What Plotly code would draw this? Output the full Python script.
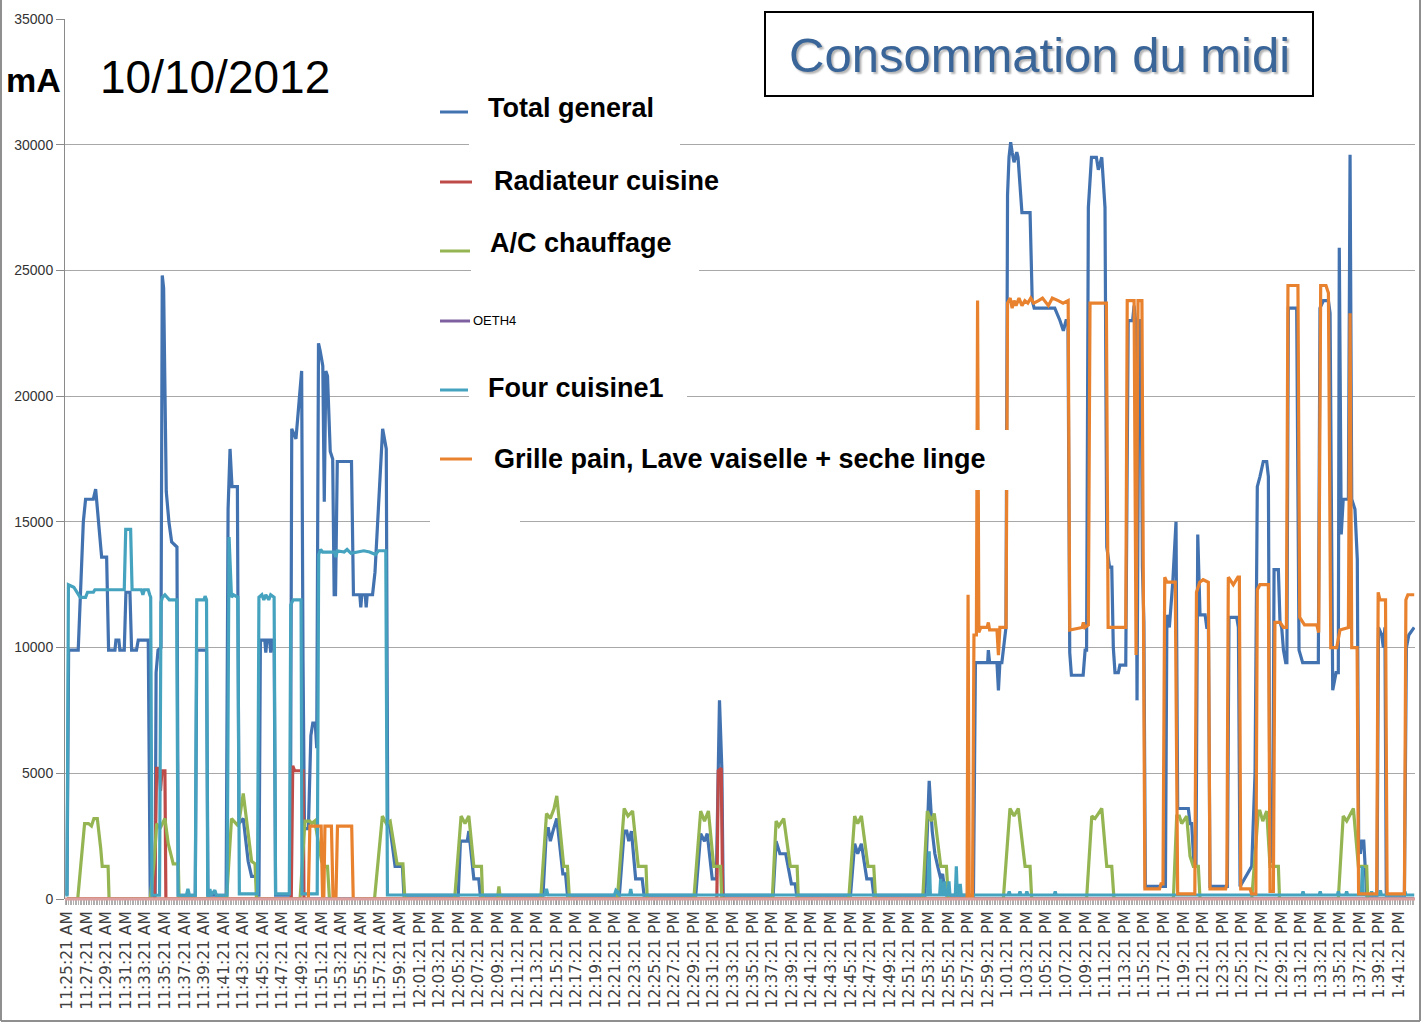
import pandas as pd
import plotly.graph_objects as go

START = "2012-10-10 11:25:21"

# Each series: (minutes after 11:25:21, current in mA)
total_general = [
    (0.0, 150), (0.17, 9900), (1.15, 9900), (1.67, 15000), (1.9, 15900), (2.69, 15900), (2.93, 16300),
    (3.44, 14000), (3.54, 13600), (4.05, 13600), (4.25, 9900), (4.9, 9900), (5.0, 10300), (5.3, 10300),
    (5.4, 9900), (5.85, 9900), (6.02, 12200), (6.43, 12200), (6.6, 9900), (7.1, 9900), (7.28, 10300),
    (8.3, 10300), (8.5, 150), (9.0, 150), (9.1, 9000), (9.3, 9900), (9.6, 10000), (9.73, 24800),
    (9.87, 24300), (10.14, 16200), (10.41, 15000), (10.69, 14200), (11.23, 14000), (11.37, 150),
    (13.1, 150), (13.25, 9900), (14.25, 9900), (14.4, 150), (16.25, 150), (16.45, 15500), (16.65, 17900),
    (16.85, 16400), (17.4, 16400), (17.56, 3000), (18.0, 3200), (18.5, 1500), (18.85, 900), (19.3, 900),
    (19.45, 150), (19.6, 150), (19.75, 10300), (20.2, 10300), (20.3, 9800), (20.42, 10300), (20.7, 10300),
    (20.8, 9800), (20.92, 10300), (21.15, 10300), (21.3, 150), (22.8, 150), (22.95, 18700), (23.38, 18300),
    (23.72, 19700), (23.96, 21000), (24.1, 9500), (24.25, 2800), (24.65, 2800), (24.9, 6500), (25.1, 7000),
    (25.35, 7000), (25.5, 6000), (25.68, 22100), (25.85, 21800), (26.12, 21200), (26.27, 15800),
    (26.43, 21000), (26.6, 20800), (26.88, 17800), (27.13, 17500), (27.28, 12100), (27.42, 12100),
    (27.6, 17400), (29.05, 17400), (29.25, 12100), (29.9, 12100), (30.0, 11600), (30.1, 12100),
    (30.45, 12100), (30.55, 11600), (30.65, 12100), (31.2, 12100), (31.45, 13000), (32.23, 18700),
    (32.6, 17900), (32.75, 3000), (33.0, 2800), (33.5, 1300), (34.25, 1300), (34.4, 150),
    (39.95, 150), (40.17, 2300), (40.87, 2300), (41.03, 2700), (41.54, 800), (42.04, 800), (42.2, 150),
    (48.6, 150), (48.96, 2800), (49.15, 2800), (49.35, 2300), (49.62, 2700), (50.01, 3200), (50.63, 1000),
    (50.9, 1000), (51.1, 150), (56.4, 150), (56.89, 2700), (57.15, 2700), (57.36, 2300), (57.63, 2700),
    (58.06, 800), (58.73, 800), (58.92, 150), (64.2, 150), (64.7, 2600), (65.09, 2300), (65.37, 2600),
    (65.88, 800), (66.3, 800), (66.47, 5200), (66.62, 7900), (66.86, 5200), (67.0, 150),
    (72.1, 150), (72.4, 2300), (72.79, 1800), (73.38, 1800), (73.96, 600), (74.35, 600), (74.5, 150),
    (80.0, 150), (80.42, 2200), (80.73, 1800), (81.11, 2200), (81.66, 800), (82.17, 800), (82.37, 150),
    (87.6, 150), (88.03, 4700), (88.34, 2700), (88.61, 1800), (88.9, 1300), (89.21, 800), (89.4, 1000),
    (89.6, 400), (89.8, 150), (92.55, 150), (92.75, 9400), (94.0, 9400), (94.07, 9900), (94.2, 9400),
    (94.95, 9400), (95.1, 8300), (95.25, 9400), (95.45, 9400), (95.87, 10800), (96.03, 28000),
    (96.18, 29500), (96.35, 30100), (96.5, 29700), (96.69, 29300), (96.97, 29700), (97.1, 29500),
    (97.5, 27300), (98.33, 27300), (98.55, 23800), (98.75, 23500), (100.85, 23500), (101.39, 23000),
    (101.73, 22600), (102.0, 23000), (102.2, 23000), (102.38, 9800), (102.55, 8900), (103.75, 8900),
    (103.95, 9900), (104.1, 9900), (104.28, 27500), (104.6, 29500), (105.1, 29500), (105.3, 29000),
    (105.65, 29500), (105.98, 27500), (106.16, 14000), (106.45, 13200), (106.67, 13200), (106.83, 10000),
    (107.0, 9000), (107.34, 9000), (107.5, 9300), (108.1, 9300), (108.35, 23000), (108.8, 23000),
    (108.95, 23600), (109.1, 23000), (109.25, 7900), (109.45, 23000), (109.65, 23000), (109.8, 13200),
    (109.95, 11000), (110.1, 500), (112.15, 500), (112.3, 11300), (112.55, 10800), (112.9, 12600),
    (113.23, 15000), (113.4, 3600), (114.49, 3600), (114.66, 3000), (114.83, 3000), (115.07, 1300),
    (115.27, 1300), (115.45, 14500), (115.61, 12300), (115.68, 11300), (116.2, 11300), (116.37, 10800),
    (116.54, 10800), (116.7, 500), (118.47, 500), (118.64, 11200), (119.43, 11200), (119.6, 10800),
    (119.77, 500), (120.96, 1300), (121.3, 5000), (121.53, 16400), (121.8, 16800), (122.14, 17400),
    (122.49, 17400), (122.66, 16800), (122.83, 1500), (123.1, 1500), (123.24, 13100), (123.68, 13100),
    (123.85, 11000), (124.02, 10800), (124.2, 9900), (124.43, 9400), (124.55, 9400), (124.7, 23500),
    (125.55, 23500), (125.79, 9900), (126.16, 9400), (127.76, 9400), (127.93, 23500), (128.28, 23800),
    (128.79, 23800), (128.96, 23300), (129.23, 8300), (129.57, 9000), (129.8, 9000), (129.9, 25900),
    (130.1, 14500), (130.3, 15900), (130.83, 15900), (131.0, 29600), (131.17, 15900), (131.5, 15500),
    (131.74, 13500), (131.88, 2000), (132.05, 1800), (132.2, 2300), (132.4, 2300), (132.55, 1300),
    (132.7, 150), (133.75, 150), (133.9, 10800), (134.23, 10500), (134.4, 10000), (134.56, 10800),
    (134.7, 150), (136.55, 150), (136.75, 10000), (137.0, 10500), (137.55, 10800),
]

radiateur_cuisine = [
    (0.0, 0), (8.95, 0), (9.15, 5200), (9.4, 5200), (9.55, 4300), (9.7, 5100), (10.0, 5100), (10.1, 0),
    (22.9, 0), (23.05, 5300), (23.25, 5100), (24.1, 5100), (24.2, 0),
    (66.35, 0), (66.5, 5100), (66.8, 5200), (66.95, 0), (137.55, 0),
]

ac_chauffage = [
    (0.0, 0), (1.1, 0), (1.4, 1300), (1.8, 3000), (2.2, 3000), (2.5, 2900), (2.75, 3200), (3.1, 3200),
    (3.45, 2000), (3.6, 1300), (4.2, 1300), (4.3, 0),
    (8.5, 0), (8.9, 1500), (9.16, 3000), (9.5, 2800), (10.0, 3200), (10.34, 2200), (10.85, 1400),
    (11.37, 1400), (11.45, 0),
    (16.3, 0), (16.8, 3200), (17.5, 2900), (18.0, 4200), (18.5, 2600), (18.85, 1500), (19.2, 1400), (19.35, 0),
    (23.8, 0), (24.3, 3100), (24.8, 3100), (24.98, 3000), (25.3, 3100), (26.0, 1500), (26.34, 1300),
    (26.6, 1300), (26.8, 0),
    (31.4, 0), (32.2, 3300), (32.6, 3000), (33.0, 3100), (33.7, 1400), (34.3, 1400), (34.5, 0),
    (39.58, 0), (40.24, 3300), (40.64, 3000), (41.03, 3300), (41.54, 1300), (42.32, 1300), (42.44, 0),
    (43.95, 0), (44.1, 500), (44.25, 0),
    (48.37, 0), (48.96, 3400), (49.35, 3200), (49.73, 3600), (50.01, 4100), (50.52, 2000), (50.72, 1300),
    (51.1, 1300), (51.3, 0),
    (56.19, 0), (56.89, 3600), (57.28, 3300), (57.75, 3500), (58.33, 1300), (59.12, 1300), (59.24, 0),
    (64.0, 0), (64.7, 3500), (65.09, 3100), (65.49, 3500), (66.03, 1300), (66.73, 1300), (66.85, 0),
    (72.01, 0), (72.4, 3100), (72.68, 2900), (73.18, 3200), (73.85, 1300), (74.55, 1300), (74.67, 0),
    (79.82, 0), (80.42, 3300), (80.73, 3000), (81.11, 3300), (81.78, 1300), (82.37, 1300), (82.56, 0),
    (87.37, 0), (87.84, 3500), (88.23, 3100), (88.55, 3400), (89.21, 1300), (89.79, 1300), (89.99, 0),
    (95.6, 0), (96.28, 3600), (96.69, 3300), (97.13, 3600), (97.82, 1300), (98.33, 1300), (98.5, 0),
    (104.1, 0), (104.63, 3300), (104.96, 3200), (105.65, 3600), (106.16, 1300), (106.67, 1300), (106.9, 0),
    (112.96, 0), (113.3, 3300), (113.57, 3300), (113.81, 3000), (114.32, 3300), (114.66, 1700),
    (115.0, 1300), (115.51, 1300), (115.68, 0),
    (120.96, 0), (121.64, 3500), (121.8, 3500), (122.09, 3100), (122.49, 3500), (122.83, 1300),
    (123.68, 1300), (123.8, 0),
    (129.8, 0), (130.3, 3300), (130.66, 3100), (131.34, 3600), (131.85, 1300), (132.7, 1300), (132.8, 0),
    (137.55, 0),
]

oeth4 = [(0.0, 0), (137.55, 0)]

four_cuisine1 = [
    (0.0, 100), (0.15, 12500), (0.7, 12400), (1.35, 12000), (1.9, 12000), (2.1, 12200), (2.7, 12200),
    (2.85, 12300), (5.85, 12300), (6.0, 14700), (6.5, 14700), (6.65, 12300), (7.6, 12300), (7.75, 12100),
    (7.9, 12300), (8.3, 12300), (8.45, 12100), (8.55, 12000), (8.68, 150),
    (9.45, 150), (9.6, 11800), (9.75, 12000), (10.0, 12100), (10.45, 11900), (11.2, 11900), (11.35, 150),
    (12.2, 150), (12.35, 400), (12.5, 150),
    (13.1, 150), (13.25, 11900), (14.0, 11900), (14.1, 12050), (14.25, 11900), (14.37, 150),
    (14.5, 150), (14.6, 400), (14.7, 150), (15.1, 350), (15.25, 150),
    (16.35, 150), (16.55, 14400), (16.8, 12000), (17.0, 12100), (17.45, 12000), (17.6, 200),
    (19.45, 200), (19.6, 12000), (19.9, 12100), (20.1, 11900), (20.3, 12100), (20.6, 11900), (20.8, 12100),
    (21.15, 12000), (21.3, 200),
    (22.7, 200), (22.85, 11700), (23.1, 11900), (23.9, 11900), (24.0, 200),
    (25.55, 200), (25.7, 13700), (25.9, 13900), (26.1, 13800), (27.3, 13800), (27.45, 13600), (27.6, 13850),
    (28.3, 13800), (28.6, 13900), (29.0, 13750), (30.3, 13850), (30.9, 13800), (31.5, 13700), (31.8, 13850),
    (32.55, 13850), (32.72, 160),
    (48.8, 160), (48.96, 400), (49.1, 160),
    (55.9, 160), (56.05, 350), (56.2, 300), (56.35, 160),
    (57.45, 160), (57.56, 400), (57.67, 160),
    (87.9, 160), (88.03, 1900), (88.15, 160), (89.1, 160), (89.2, 800), (89.3, 160), (89.5, 160),
    (89.6, 700), (89.7, 160), (89.95, 160), (90.05, 700), (90.15, 160), (90.7, 160), (90.8, 1300),
    (90.9, 160), (91.1, 160), (91.2, 600), (91.3, 160),
    (96.1, 160), (96.2, 300), (96.3, 160), (97.2, 160), (97.3, 300), (97.4, 160), (97.9, 160), (98.0, 300),
    (98.1, 160), (100.8, 160), (100.9, 300), (101.0, 160),
    (126.1, 160), (126.2, 300), (126.3, 160), (127.85, 160), (127.95, 300), (128.05, 160),
    (129.7, 160), (129.8, 300), (129.9, 160), (130.55, 160), (130.65, 300), (130.75, 160),
    (132.15, 160), (132.25, 1300), (132.35, 160), (133.1, 160), (133.2, 300), (133.3, 160),
    (134.0, 160), (134.1, 350), (134.2, 160), (136.5, 160), (136.6, 300), (136.7, 160), (137.55, 160),
]

grille_pain_lave_vaisselle = [
    (0.0, 0), (24.64, 0), (24.8, 2900), (25.95, 2900), (26.1, 0), (26.22, 0), (26.34, 2900), (27.0, 2900),
    (27.17, 0), (27.46, 0), (27.62, 2900), (29.07, 2900), (29.23, 0),
    (91.9, 0), (92.0, 12100), (92.12, 0), (92.45, 0), (92.6, 10500), (92.85, 10500), (92.97, 23800),
    (93.1, 10600), (93.3, 10800), (93.95, 10800), (94.07, 11000), (94.2, 10700), (94.95, 10700),
    (95.1, 9700), (95.25, 10800), (95.88, 10800), (96.03, 23700), (96.3, 23900), (96.5, 23500),
    (96.7, 23800), (96.9, 23600), (97.2, 23900), (97.5, 23600), (97.8, 23800), (98.1, 23700),
    (98.4, 23900), (98.7, 23700), (99.2, 23800), (99.6, 23900), (100.2, 23600), (100.6, 23900),
    (101.2, 23800), (101.7, 23700), (102.22, 23800), (102.38, 10700), (103.65, 10800), (103.77, 11000),
    (103.92, 10800), (104.28, 10900), (104.45, 23700), (106.12, 23700), (106.3, 10800), (108.1, 10800),
    (108.25, 23800), (108.95, 23800), (109.15, 9700), (109.35, 23800), (109.75, 23800), (110.05, 400),
    (111.55, 400), (111.7, 600), (111.9, 600), (112.08, 12800), (112.3, 12600), (113.15, 12600),
    (113.4, 200), (115.15, 200), (115.32, 12200), (115.65, 12600), (116.0, 12700), (116.53, 12600),
    (116.7, 400), (118.3, 400), (118.42, 600), (118.57, 12800), (119.08, 12500), (119.55, 12800),
    (119.7, 12800), (119.84, 400), (120.79, 400), (120.95, 200), (121.38, 200), (121.53, 12300),
    (121.8, 12500), (122.66, 12500), (122.83, 300), (123.17, 300), (123.33, 11000), (123.85, 11000),
    (124.2, 10800), (124.5, 10800), (124.66, 24400), (125.68, 24400), (125.86, 11200), (126.2, 11000),
    (126.35, 10900), (127.6, 10900), (127.8, 10600), (128.0, 24400), (128.54, 24400), (128.79, 24100),
    (129.03, 10000), (129.64, 10000), (129.97, 10700), (130.83, 10800), (131.0, 23300), (131.17, 10000),
    (131.72, 10000), (131.87, 200), (133.72, 200), (133.87, 12200), (134.05, 11900), (134.62, 11900),
    (134.78, 200), (136.55, 200), (136.7, 11900), (136.9, 12100), (137.55, 12100),
]

series_names = ["Total general", "Radiateur cuisine", "A/C chauffage", "OETH4",
                "Four cuisine1", "Grille pain, Lave vaiselle + seche linge"]
series_data = [total_general, radiateur_cuisine, ac_chauffage, oeth4,
               four_cuisine1, grille_pain_lave_vaisselle]
series_colors = ["#4272B0", "#BE4B48", "#94B552", "#7E60A0", "#45A3BF", "#E9822E"]

y_ticks = [0, 5000, 10000, 15000, 20000, 25000, 30000, 35000]

# ---------------- layout geometry (pixels) ----------------
W, H = 1421, 1023
L, R, T, B = 65, 1415, 19, 899


def px(x):
    return (x - L) / (R - L)


def py(y):
    return (B - y) / (B - T)


t0 = pd.Timestamp(START)

fig = go.Figure()
for name, data, col in zip(series_names, series_data, series_colors):
    xs = [t0 + pd.Timedelta(minutes=m) for m, _ in data]
    ys = [v for _, v in data]
    fig.add_trace(go.Scatter(x=xs, y=ys, mode="lines", name=name,
                             line=dict(color=col, width=3.2), showlegend=False))

shapes = []
annotations = []

# outer frame
for (x0, y0, x1, y1) in [(1, 0, 1, 1021), (1, 1021, 1420, 1021), (1420, 0, 1420, 1021)]:
    shapes.append(dict(type="line", xref="paper", yref="paper", x0=px(x0), y0=py(y0), x1=px(x1), y1=py(y1),
                       line=dict(color="#8f8f8f", width=2), layer="above"))

# pinkish baseline at zero
shapes.append(dict(type="line", xref="paper", yref="paper", x0=0, x1=1, y0=0, y1=0,
                   line=dict(color="#DDA0A0", width=3), layer="above"))

# legend: white text boxes
legend_boxes = [(469, 86, 680, 148), (476, 160, 728, 204), (471, 222, 699, 272), (470, 310, 520, 332),
                (469, 368, 687, 399), (476, 430, 1010, 490), (430, 516, 520, 528)]
for (x0, y0, x1, y1) in legend_boxes:
    shapes.append(dict(type="rect", xref="paper", yref="paper", x0=px(x0), x1=px(x1), y0=py(y0), y1=py(y1),
                       fillcolor="white", line=dict(width=0), layer="above"))

# legend line samples and labels
legend_rows = [  # (sample y, sample x end, text x, text y, font size, bold)
    (112, 468, 486, 108, 27, True),
    (182, 472, 492, 181, 27, True),
    (251, 470, 488, 243, 27, True),
    (321, 470, 471, 321, 13, False),
    (390, 468, 486, 388, 27, True),
    (459, 472, 492, 459, 27, True),
]
for (sy, sx1, tx, ty, fs, bold), name, col in zip(legend_rows, series_names, series_colors):
    shapes.append(dict(type="line", xref="paper", yref="paper", x0=px(440), x1=px(sx1), y0=py(sy), y1=py(sy),
                       line=dict(color=col, width=3), layer="above"))
    annotations.append(dict(xref="paper", yref="paper", x=px(tx), y=py(ty), xanchor="left", yanchor="middle",
                            text=f"<b>{name}</b>" if bold else name, showarrow=False,
                            font=dict(family="Liberation Sans", size=fs, color="#000000")))

# title box
shapes.append(dict(type="rect", xref="paper", yref="paper", x0=px(765), x1=px(1313), y0=py(12), y1=py(96),
                   fillcolor="white", line=dict(color="#000000", width=2), layer="above"))
annotations.append(dict(xref="paper", yref="paper", x=px(1039), y=py(55), xanchor="center", yanchor="middle",
                        text="Consommation du midi", showarrow=False,
                        font=dict(family="Liberation Sans", size=49, color="#3A6598",
                                  shadow="2px 2px 2px rgba(0,0,0,0.3)")))

annotations.append(dict(xref="paper", yref="paper", x=px(33), y=py(80), xanchor="center", yanchor="middle",
                        text="<b>mA</b>", showarrow=False,
                        font=dict(family="Liberation Sans", size=34, color="#000000")))
annotations.append(dict(xref="paper", yref="paper", x=px(215), y=py(77), xanchor="center", yanchor="middle",
                        text="10/10/2012", showarrow=False,
                        font=dict(family="Liberation Sans", size=46, color="#000000")))

fig.update_layout(
    width=W, height=H,
    margin=dict(l=L, r=W - R, t=T, b=H - B, pad=0),
    paper_bgcolor="white", plot_bgcolor="white",
    showlegend=False,
    shapes=shapes, annotations=annotations,
    xaxis=dict(
        type="date",
        range=[t0 - pd.Timedelta(seconds=12), t0 + pd.Timedelta(minutes=137.63)],
        tick0=t0, dtick=120000, tickformat="%-I:%M:%S %p", tickangle=-90,
        ticks="outside", ticklen=5, tickcolor="#9a9a9a", tickwidth=1,
        minor=dict(dtick=10000, tick0=t0, ticks="outside", ticklen=5, tickcolor="#b0b0b0", showgrid=False),
        showgrid=False, showline=False, zeroline=False,
        tickfont=dict(family="DejaVu Sans", size=15.5, color="#404040"),
    ),
    yaxis=dict(
        range=[0, 35000], tickvals=y_ticks, tickformat="d",
        ticks="outside", ticklen=8, tickcolor="#8a8a8a",
        showline=True, linecolor="#8a8a8a", linewidth=1,
        showgrid=True, gridcolor="#A8A8A8", gridwidth=1, zeroline=False,
        tickfont=dict(family="Liberation Sans", size=14, color="#333333"),
    ),
)

fig.write_html("out.html", config={"displayModeBar": False},
               post_script="document.body.style.margin='0';")
